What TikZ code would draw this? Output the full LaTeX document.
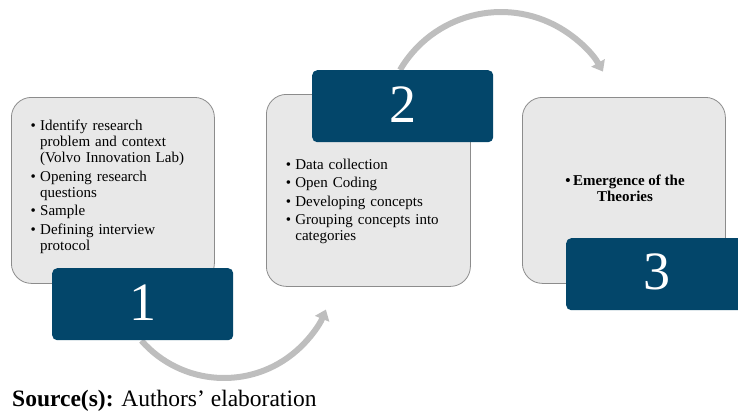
\documentclass[tikz,border=0pt]{standalone}
\usepackage{fontspec}
\setmainfont{Liberation Serif}
\usetikzlibrary{arrows.meta}

\definecolor{panelfill}{HTML}{E8E8E8}
\definecolor{panelline}{HTML}{8C8C8C}
\definecolor{stepblue}{HTML}{03466A}
\definecolor{arcgray}{HTML}{BEBEBE}

% one bulleted entry; its lines are stacked under the first one
\newcommand{\bulletentry}[1]{\par\noindent\makebox[9.5pt][l]{\strut\textbullet}%
  \begin{tabular}[t]{@{}l@{}}#1\end{tabular}}

\begin{document}
\begin{tikzpicture}[x=1pt,y=-1pt,
  panel/.style={draw=panelline, line width=0.8pt, fill=panelfill,
    rounded corners=20pt, anchor=north west, inner sep=0pt},
  stepbox/.style={fill=stepblue, rounded corners=5pt, anchor=north west,
    inner sep=0pt, minimum width=181pt, minimum height=72pt},
  stepnum/.style={text=white, inner sep=0pt, font=\fontsize{54}{54}\selectfont},
  listtext/.style={anchor=north west, inner sep=0pt, text width=185pt, align=left,
    font=\fontsize{15}{16}\selectfont},
  flow/.style={draw=arcgray, line width=6pt,
    -{Triangle[width=15pt,length=10pt]}}
]
\useasboundingbox (0,0) rectangle (738,418);

% light panels
\node[panel, minimum width=203pt, minimum height=186pt] (p1) at (11,97) {};
\node[panel, minimum width=204pt, minimum height=192pt] (p2) at (266,94) {};
\node[panel, minimum width=203pt, minimum height=186pt] (p3) at (522,97) {};

% curved connectors between the steps
\coordinate (flowA) at (141.4,340.6);
\coordinate (flowB) at (400,70);
\draw[flow] (flowA) arc[start angle=138.7, end angle=22.2, radius=110];
\draw[flow] (flowB) arc[start angle=-149.7, end angle=-29.4, radius=117];

% numbered step boxes
\node[stepbox] (s1) at (52,268) {};
\node[stepbox] (s2) at (312,70) {};
\node[stepbox] (s3) at (566,238) {};
\node[stepnum, yshift=2pt] (n1) at (s1.center) {1};
\node[stepnum, yshift=2pt] (n2) at (s2.center) {2};
\node[stepnum, yshift=2pt] (n3) at (s3.center) {3};

% panel contents
\node[listtext] (t1) at (30.5,112) {\setlength{\parskip}{2.5pt}\setlength{\lineskip}{0pt}%
  \bulletentry{Identify research\\ problem and context\\ (Volvo Innovation Lab)}
  \bulletentry{Opening research\\ questions}
  \bulletentry{Sample}
  \bulletentry{Defining interview\\ protocol}};
\node[listtext] (t2) at (285.7,150.5) {\setlength{\parskip}{2.5pt}\setlength{\lineskip}{0pt}%
  \bulletentry{Data collection}
  \bulletentry{Open Coding}
  \bulletentry{Developing concepts}
  \bulletentry{Grouping concepts into\\ categories}};
\node[align=center, inner sep=0pt, font=\fontsize{15}{16}\selectfont\bfseries] (t3)
  at (625,188) {\textbullet\,Emergence of the\\Theories};

% source line
\node[anchor=base west, inner sep=0pt, font=\fontsize{23.5}{23.5}\selectfont] (src)
  at (12,406) {\textbf{Source(s):} Authors’ elaboration};
\end{tikzpicture}
\end{document}
